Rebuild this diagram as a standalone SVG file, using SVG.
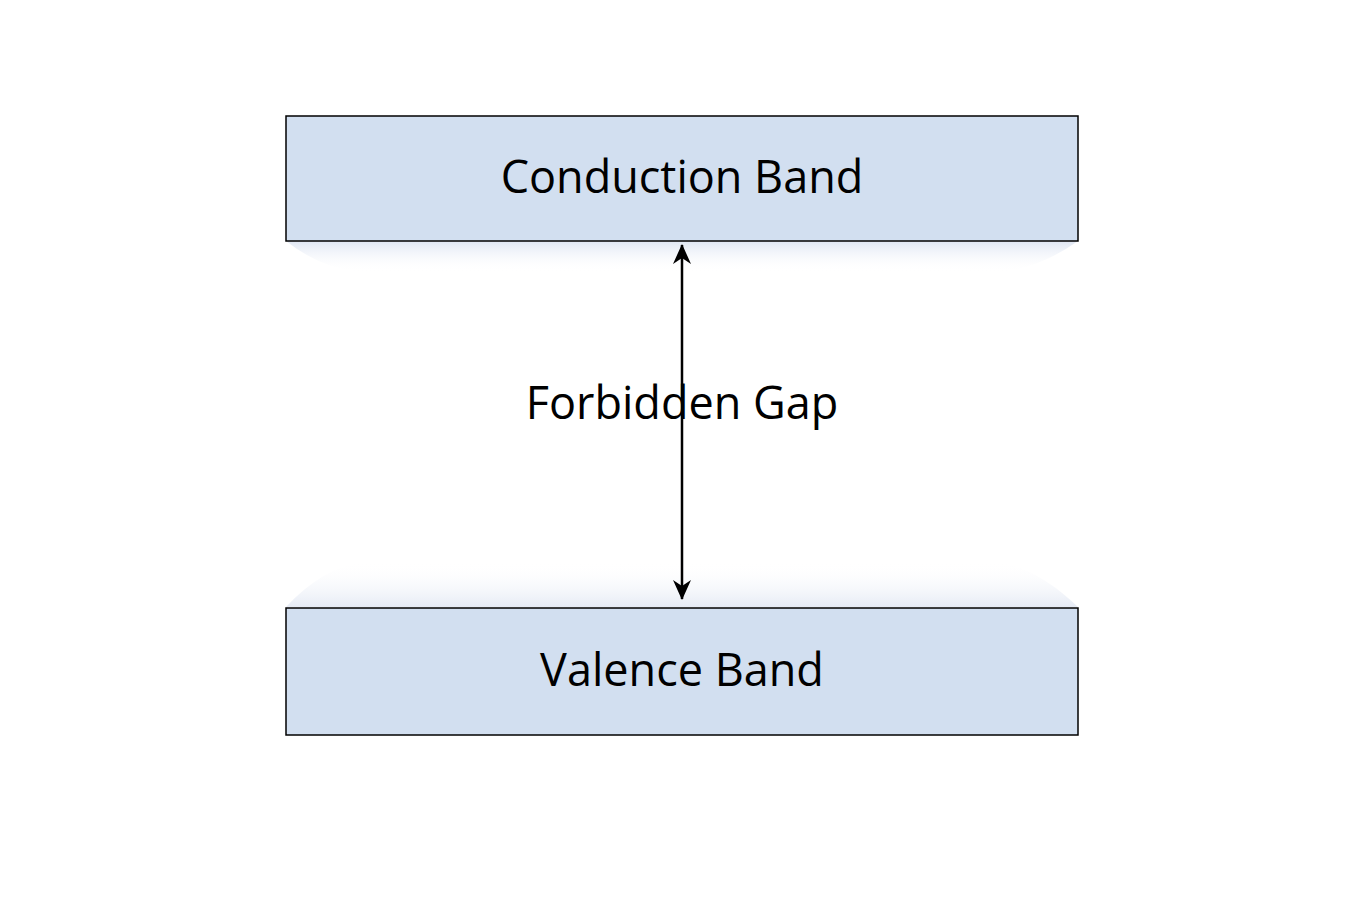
<svg xmlns="http://www.w3.org/2000/svg" width="1365" height="910" viewBox="0 0 1365 910">
<defs>
<linearGradient id="gd" x1="0" y1="0" x2="0" y2="1"><stop offset="0" stop-color="#dfe6f3"/><stop offset="1" stop-color="#ffffff" stop-opacity="0"/></linearGradient>
<linearGradient id="gu" x1="0" y1="1" x2="0" y2="0"><stop offset="0" stop-color="#e6ebf5"/><stop offset="1" stop-color="#ffffff" stop-opacity="0"/></linearGradient>
<marker id="ah" viewBox="0 0 20 18" refX="19" refY="9" markerWidth="20" markerHeight="18" markerUnits="userSpaceOnUse" orient="auto-start-reverse"><path d="M0,0 L20,9 L0,18 L6,9 z" fill="#000"/></marker>
<style>.band{fill:#d2dff0;stroke:#000;stroke-width:1.5}.t{font-family:"Open Sans","Liberation Sans",sans-serif;font-size:45px;fill:#000;text-anchor:middle}</style>
</defs>
<rect width="1365" height="910" fill="#fff"/>
<path d="M286,241 L1078,241 Q1040,268 1000,272 L360,272 Q320,268 286,241 Z" fill="url(#gd)"/>
<path d="M286,607 L1078,607 Q1040,570 1000,562 L360,562 Q320,570 286,607 Z" fill="url(#gu)"/>
<g id="conduction"><rect class="band" x="286" y="116" width="792" height="125"/><text class="t" x="682" y="193">Conduction Band</text></g>
<g id="valence"><rect class="band" x="286" y="608" width="792" height="127"/><text class="t" x="682" y="686">Valence Band</text></g>
<g id="gap"><text class="t" x="682" y="419">Forbidden Gap</text></g>
<g id="connectors"><line x1="682" y1="245" x2="682" y2="599" stroke="#000" stroke-width="2.5" marker-start="url(#ah)" marker-end="url(#ah)"/></g>
</svg>
